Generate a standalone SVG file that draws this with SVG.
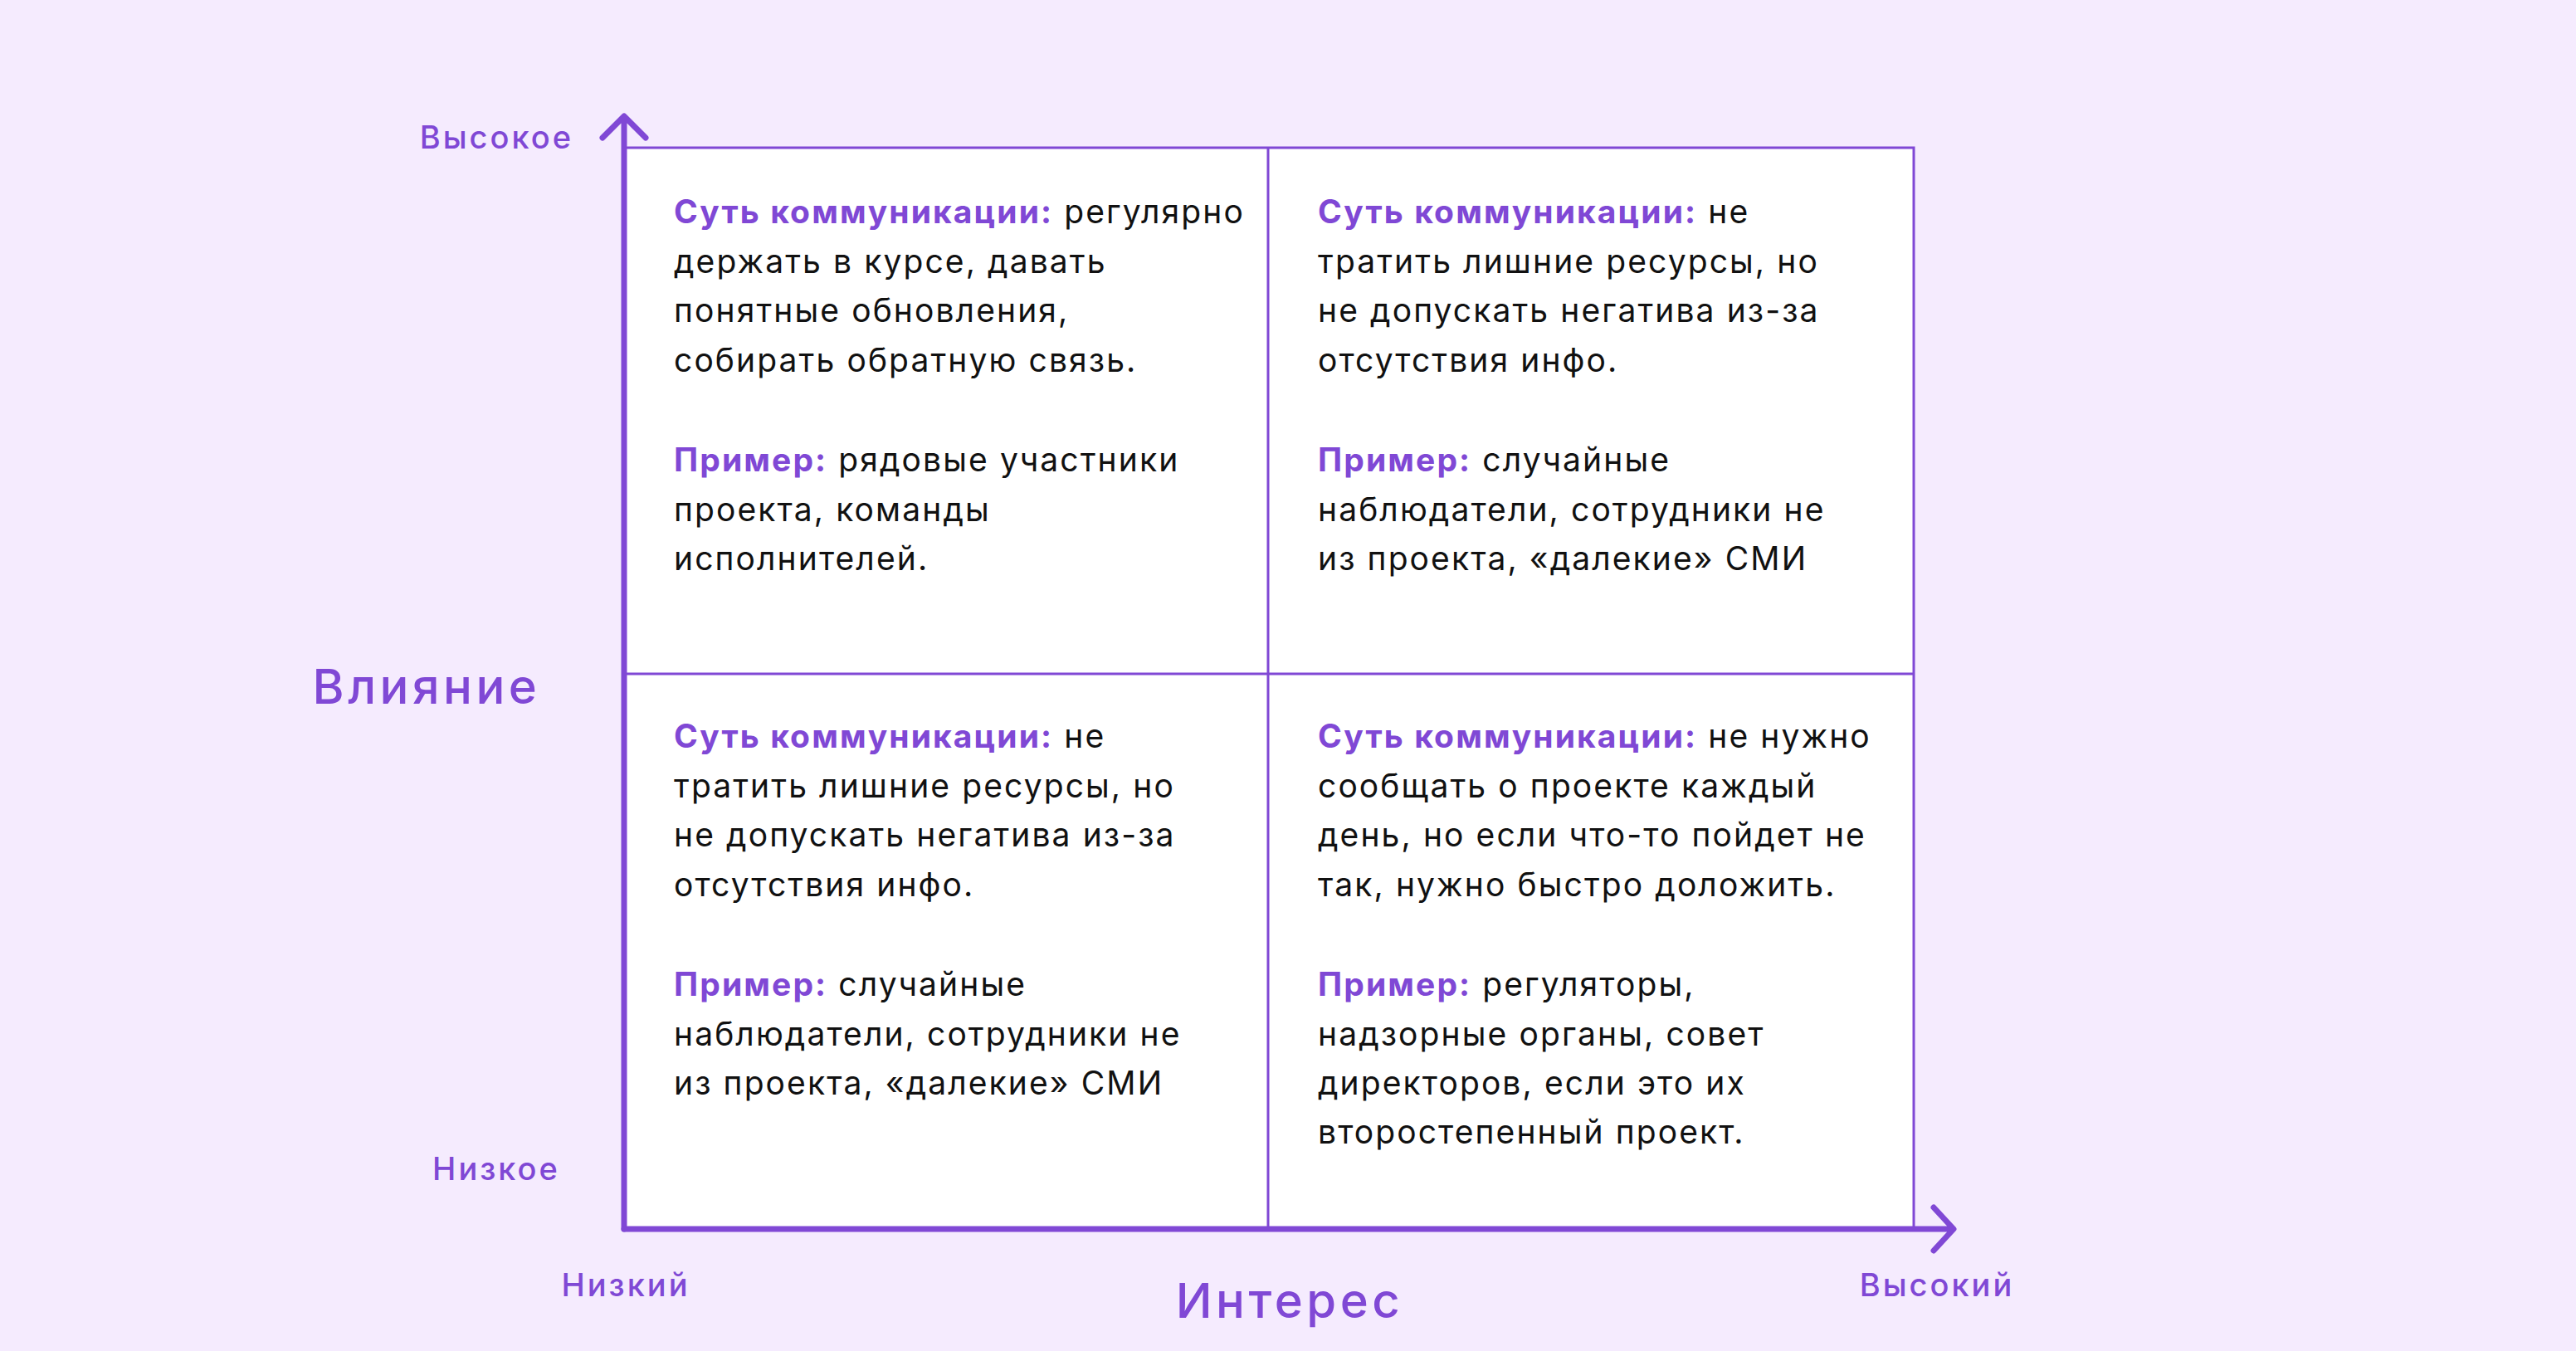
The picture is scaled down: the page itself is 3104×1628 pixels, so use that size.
<svg xmlns="http://www.w3.org/2000/svg" width="3104" height="1628" viewBox="0 0 3104 1628">
<style>
.t{font-family:Inter,"Noto Sans",sans-serif;font-size:39px;fill:#111;letter-spacing:2.1px}
.b{font-weight:700;fill:#8048D5}
.ax{font-family:Inter,"Noto Sans",sans-serif;fill:#8048D5;font-weight:500;letter-spacing:3px}
.big{letter-spacing:4.5px}
</style>
<rect width="3104" height="1628" fill="#F5EBFE"/>
<g id="grid">
<rect x="752" y="178" width="1554" height="1303" fill="#fff" stroke="#8048D5" stroke-width="3"/>
<line x1="1528" y1="178" x2="1528" y2="1481" stroke="#8048D5" stroke-width="3"/>
<line x1="752" y1="812" x2="2306" y2="812" stroke="#8048D5" stroke-width="3"/>
</g>
<g id="connectors" fill="none" stroke="#8048D5" stroke-width="7" stroke-linecap="round" stroke-linejoin="round">
<path d="M752 1481 V142 M726 166 L752 140 L778 166"/>
<path d="M752 1481 H2352 M2330 1455 L2354 1481 L2330 1507"/>
</g>
<g id="q1">
<text class="t" x="812" y="269"><tspan class="b">Суть коммуникации:</tspan> регулярно</text>
<text class="t" x="812" y="329">держать в курсе, давать</text>
<text class="t" x="812" y="388">понятные обновления,</text>
<text class="t" x="812" y="448">собирать обратную связь.</text>
<text class="t" x="812" y="568"><tspan class="b">Пример:</tspan> рядовые участники</text>
<text class="t" x="812" y="628">проекта, команды</text>
<text class="t" x="812" y="687">исполнителей.</text>
</g>
<g id="q2">
<text class="t" x="1588" y="269"><tspan class="b">Суть коммуникации:</tspan> не</text>
<text class="t" x="1588" y="329">тратить лишние ресурсы, но</text>
<text class="t" x="1588" y="388">не допускать негатива из-за</text>
<text class="t" x="1588" y="448">отсутствия инфо.</text>
<text class="t" x="1588" y="568"><tspan class="b">Пример:</tspan> случайные</text>
<text class="t" x="1588" y="628">наблюдатели, сотрудники не</text>
<text class="t" x="1588" y="687">из проекта, «далекие» СМИ</text>
</g>
<g id="q3">
<text class="t" x="812" y="901"><tspan class="b">Суть коммуникации:</tspan> не</text>
<text class="t" x="812" y="961">тратить лишние ресурсы, но</text>
<text class="t" x="812" y="1020">не допускать негатива из-за</text>
<text class="t" x="812" y="1080">отсутствия инфо.</text>
<text class="t" x="812" y="1200"><tspan class="b">Пример:</tspan> случайные</text>
<text class="t" x="812" y="1260">наблюдатели, сотрудники не</text>
<text class="t" x="812" y="1319">из проекта, «далекие» СМИ</text>
</g>
<g id="q4">
<text class="t" x="1588" y="901"><tspan class="b">Суть коммуникации:</tspan> не нужно</text>
<text class="t" x="1588" y="961">сообщать о проекте каждый</text>
<text class="t" x="1588" y="1020">день, но если что-то пойдет не</text>
<text class="t" x="1588" y="1080">так, нужно быстро доложить.</text>
<text class="t" x="1588" y="1200"><tspan class="b">Пример:</tspan> регуляторы,</text>
<text class="t" x="1588" y="1260">надзорные органы, совет</text>
<text class="t" x="1588" y="1319">директоров, если это их</text>
<text class="t" x="1588" y="1378">второстепенный проект.</text>
</g>
<g id="labels">
<text class="ax" x="691" y="179" font-size="38" text-anchor="end">Высокое</text>
<text class="ax" x="598" y="1422" font-size="38" text-anchor="middle">Низкое</text>
<text class="ax" x="754" y="1562" font-size="38" text-anchor="middle">Низкий</text>
<text class="ax" x="2334" y="1562" font-size="38" text-anchor="middle">Высокий</text>
<text class="ax big" x="514" y="848" font-size="58" text-anchor="middle">Влияние</text>
<text class="ax big" x="1554" y="1588" font-size="58" text-anchor="middle">Интерес</text>
</g>
</svg>
